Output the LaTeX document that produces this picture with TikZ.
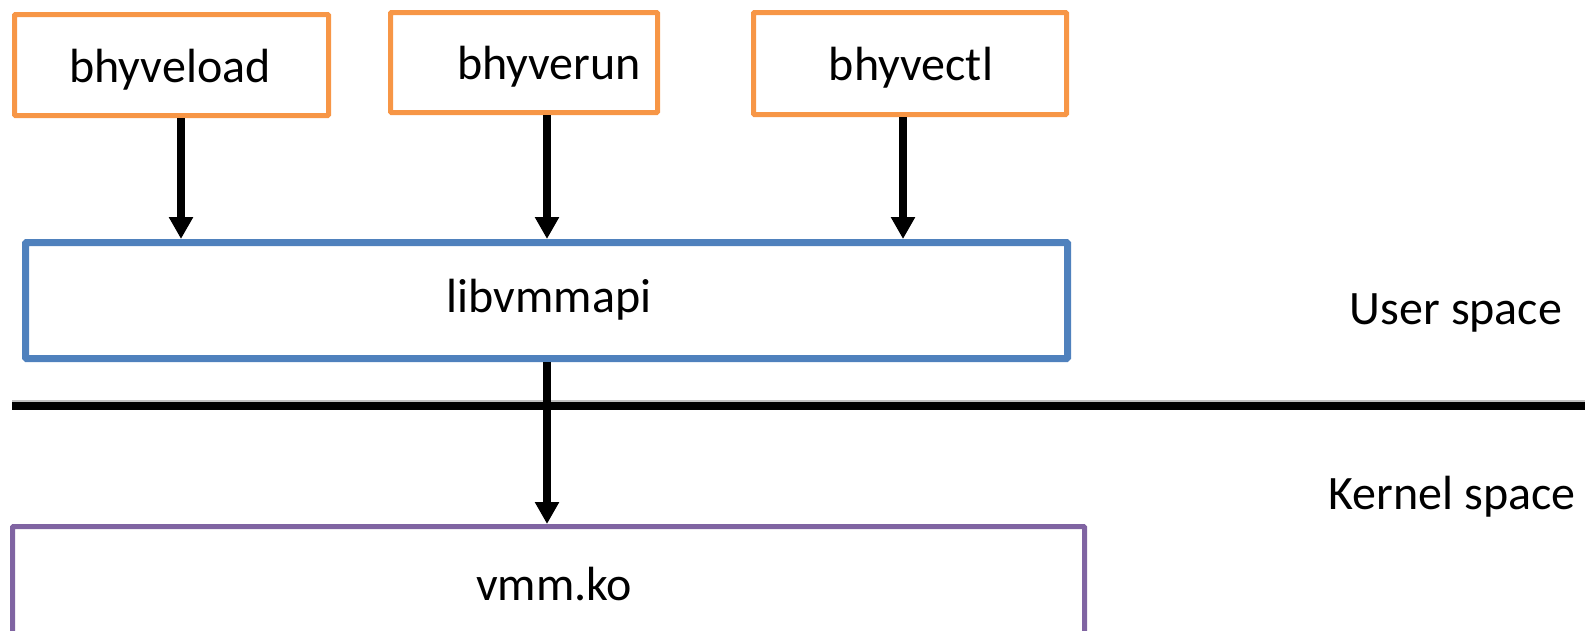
\documentclass[tikz,border=0pt]{standalone}
\usepackage{fontspec}
\setmainfont{Carlito}
\usetikzlibrary{arrows.meta}
\definecolor{progorange}{HTML}{F79646}
\definecolor{libblue}{HTML}{4F81BD}
\definecolor{kernpurple}{HTML}{8064A2}
\begin{document}
\begin{tikzpicture}[x=1pt,y=-1pt,
  every node/.style={font=\fontsize{48}{57}\selectfont, inner sep=0pt},
  prog/.style={draw=progorange, line width=5pt, rounded corners=1pt},
  lib/.style={draw=libblue, line width=7pt, rounded corners=1pt},
  kmod/.style={draw=kernpurple, line width=5pt, rounded corners=1pt},
  arr/.style={line width=8pt, -{Triangle[width=23pt,length=22pt]}},
  sep/.style={line width=8pt}]
\useasboundingbox (0,0) rectangle (1585,630);
\clip (0,0) rectangle (1585,630);

% user-space programs
\node[prog, minimum width=314pt, minimum height=101pt] (load) at (171.5,65) {};
\node[prog, minimum width=267pt, minimum height=100pt] (run) at (524,62.5) {};
\node[prog, minimum width=313pt, minimum height=102pt] (ctl) at (910,63.5) {};
\node[anchor=base] (loadtext) at (170,82) {bhyveload};
\node[anchor=base] (runtext) at (549,79) {bhyverun};
\node[anchor=base] (ctltext) at (911,80) {bhyvectl};

% library and kernel module
\node[lib, minimum width=1042pt, minimum height=116pt] (api) at (546.5,300.5) {};
\node (apitext) at (549,300) {libvmmapi};
\node[kmod, minimum width=1072pt, minimum height=116pt] (vmm) at (548.5,584.5) {};
\node (vmmtext) at (554,584) {vmm.ko};

% user / kernel boundary
\coordinate (sepL) at (12,406);
\coordinate (sepR) at (1590,406);
\draw[sep, black!25] ([yshift=2.5pt]sepL) -- ([yshift=2.5pt]sepR);
\draw[sep] (sepL) -- (sepR);
\node (user) at (1456,313) {User space};
\node (kern) at (1452,497) {Kernel space};

% call arrows
\coordinate (x1) at (181,0);
\coordinate (x2) at (547,0);
\coordinate (x3) at (903,0);
\draw[arr] (load.south -| x1) -- (api.north -| x1);
\draw[arr] (run.south -| x2) -- (api.north -| x2);
\draw[arr] (ctl.south -| x3) -- (api.north -| x3);
\draw[arr] (api.south -| x2) -- (vmm.north -| x2);
\end{tikzpicture}
\end{document}
